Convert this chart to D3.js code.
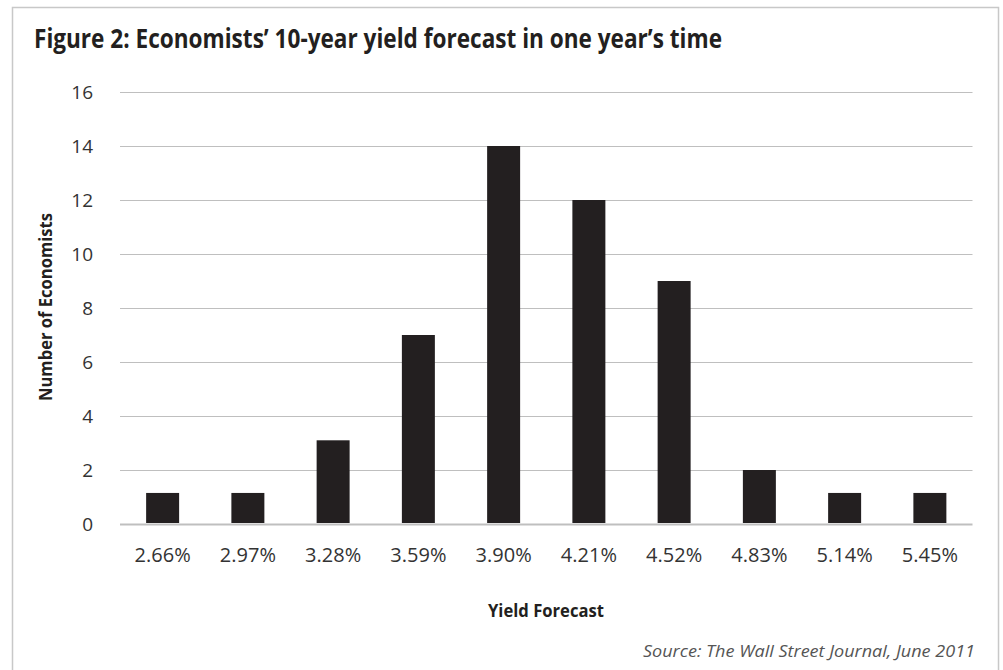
<!DOCTYPE html>
<html>
<head>
<meta charset="utf-8">
<script src="https://cdn.jsdelivr.net/npm/d3@7"></script>
<style>
  html, body { margin: 0; padding: 0; background: #fff; }
  svg { display: block; }
  text { font-family: "Open Sans", "Noto Sans", sans-serif; }
</style>
</head>
<body>
<svg id="chart" width="1003" height="670"></svg>
<script>
const categories = ["2.66%", "2.97%", "3.28%", "3.59%", "3.90%", "4.21%", "4.52%", "4.83%", "5.14%", "5.45%"];
const economists = [1.15, 1.15, 3.1, 7, 14, 12, 9, 2, 1.15, 1.15];
const yTicks = [0, 2, 4, 6, 8, 10, 12, 14, 16];
const titleText = "Figure 2: Economists\u2019 10-year yield forecast in one year\u2019s time";
const xTitle = "Yield Forecast";
const yTitle = "Number of Economists";
const sourceText = "Source: The Wall Street Journal, June 2011";

const svg = d3.select("#chart");

// frame
svg.append("rect")
  .attr("x", 12.5).attr("y", 7.5)
  .attr("width", 986).attr("height", 720)
  .attr("fill", "none").attr("stroke", "#c8c8c8").attr("stroke-width", 1.5);

// title
svg.append("text")
  .attr("x", 34).attr("y", 48)
  .attr("font-size", 26).attr("font-weight", 700)
  .attr("fill", "#231f20")
  .attr("textLength", 688).attr("lengthAdjust", "spacingAndGlyphs")
  .text(titleText);

const x = d3.scaleBand().domain(categories).range([120, 972.5])
  .paddingInner(0.613).paddingOuter(0.3065);
const y = d3.scaleLinear().domain([0, 16]).range([524, 92]);

// gridlines + y labels
const yAxis = d3.axisLeft(y).tickValues(yTicks).tickSize(-(972.5 - 120)).tickPadding(27).tickFormat(d3.format("d"));
const gy = svg.append("g").attr("transform", "translate(120,0)").call(yAxis);
gy.select(".domain").remove();
gy.selectAll(".tick line").attr("stroke", "#bfbfbf")
  .attr("stroke-width", d => d === 0 ? 2.2 : 1.2);
gy.selectAll(".tick text")
  .attr("font-size", 19).attr("fill", "#333333")
  .attr("font-family", "'Open Sans', sans-serif");

// bars
svg.append("g").selectAll("rect").data(categories).join("rect")
  .attr("x", d => x(d))
  .attr("width", x.bandwidth())
  .attr("y", (d, i) => y(economists[i]))
  .attr("height", (d, i) => y(0) - 1 - y(economists[i]))
  .attr("fill", "#231f20");

// x axis labels
const xAxis = d3.axisBottom(x).tickSize(0).tickPadding(0);
const gx = svg.append("g").attr("transform", "translate(0,548)").call(xAxis);
gx.select(".domain").remove();
gx.selectAll(".tick text")
  .attr("font-size", 20).attr("fill", "#333333")
  .attr("font-family", "'Open Sans', sans-serif");

// axis titles
svg.append("text")
  .attr("x", 546).attr("y", 617)
  .attr("text-anchor", "middle")
  .attr("font-size", 18).attr("font-weight", 700).attr("fill", "#231f20")
  .attr("textLength", 116).attr("lengthAdjust", "spacingAndGlyphs")
  .text(xTitle);

svg.append("text")
  .attr("transform", "translate(52,307) rotate(-90)")
  .attr("text-anchor", "middle")
  .attr("font-size", 17).attr("font-weight", 700).attr("fill", "#231f20")
  .attr("textLength", 188).attr("lengthAdjust", "spacingAndGlyphs")
  .text(yTitle);

// source
svg.append("text")
  .attr("x", 975).attr("y", 657)
  .attr("text-anchor", "end")
  .attr("font-size", 16).attr("font-style", "italic").attr("fill", "#555")
  .attr("textLength", 332).attr("lengthAdjust", "spacingAndGlyphs")
  .text(sourceText);
</script>
</body>
</html>
